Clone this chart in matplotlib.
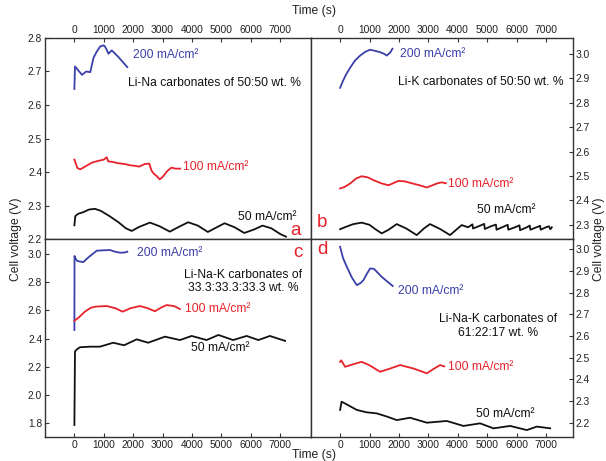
import matplotlib
matplotlib.use("Agg")
import matplotlib.pyplot as plt
import numpy as np

plt.rcParams['font.family'] = ['Liberation Sans', 'DejaVu Sans']

# ---------------- data ----------------
time_ticks = [0, 1000, 2000, 3000, 4000, 5000, 6000, 7000]

# panel a: Li-Na 50:50
a200_t = [0, 20, 135, 260, 400, 540, 650, 765, 880, 1000, 1050, 1100, 1160, 1270, 1400, 1500, 1650, 1800]
a200_v = [2.648, 2.715, 2.703, 2.690, 2.700, 2.698, 2.741, 2.760, 2.775, 2.778, 2.773, 2.765, 2.753, 2.763, 2.752, 2.743, 2.728, 2.713]
a100_t = [0, 100, 200, 400, 600, 800, 1000, 1100, 1150, 1300, 1500, 1700, 1900, 2100, 2200, 2400, 2550, 2620, 2700, 2800, 2900, 3000, 3150, 3300, 3450, 3600]
a100_v = [2.437, 2.412, 2.408, 2.418, 2.428, 2.433, 2.437, 2.444, 2.432, 2.430, 2.426, 2.424, 2.420, 2.418, 2.416, 2.424, 2.425, 2.405, 2.395, 2.388, 2.378, 2.385, 2.402, 2.413, 2.410, 2.410]
a50_t = [0, 30, 120, 300, 500, 700, 900, 1200, 1500, 1750, 1950, 2200, 2570, 2900, 3245, 3550, 3870, 4200, 4540, 4800, 5110, 5450, 5780, 6100, 6400, 6700, 7000, 7200]
a50_v = [2.241, 2.268, 2.275, 2.280, 2.288, 2.290, 2.284, 2.268, 2.250, 2.232, 2.224, 2.236, 2.249, 2.238, 2.222, 2.236, 2.250, 2.240, 2.221, 2.233, 2.247, 2.235, 2.218, 2.228, 2.240, 2.232, 2.215, 2.207]

# panel b: Li-K 50:50
b200_t = [0, 100, 200, 340, 500, 680, 850, 1020, 1200, 1360, 1500, 1585, 1700, 1780]
b200_v = [2.861, 2.890, 2.915, 2.943, 2.972, 2.993, 3.008, 3.017, 3.012, 3.007, 3.000, 2.993, 3.005, 3.021]
b100_t = [0, 150, 350, 550, 735, 950, 1133, 1400, 1642, 1800, 1982, 2200, 2380, 2700, 2945, 3100, 3285, 3450, 3600]
b100_v = [2.449, 2.455, 2.470, 2.490, 2.499, 2.494, 2.483, 2.470, 2.462, 2.470, 2.480, 2.478, 2.472, 2.462, 2.453, 2.460, 2.469, 2.474, 2.470]
b50_t = [0, 200, 450, 735, 1000, 1200, 1415, 1650, 1925, 2250, 2605, 2850, 3058, 3400, 3738, 3950, 4135, 4350, 4500, 4520,
         4750, 4900, 4920, 5150, 5300, 5320, 5550, 5700, 5720, 5950, 6100, 6120, 6350, 6450, 6470, 6700, 6800, 6820, 7000, 7100,
         7150, 7200]
b50_v = [2.282, 2.292, 2.303, 2.309, 2.300, 2.282, 2.265, 2.280, 2.303, 2.285, 2.258, 2.285, 2.303, 2.283, 2.258, 2.280, 2.299, 2.290, 2.302, 2.285,
         2.296, 2.304, 2.283, 2.295, 2.301, 2.280, 2.292, 2.300, 2.280, 2.290, 2.298, 2.278, 2.290, 2.297, 2.280, 2.291, 2.296, 2.280, 2.290, 2.294,
         2.282, 2.290]

# panel c: Li-Na-K 33.3:33.3:33.3
c200_t = [0, 5, 15, 100, 300, 500, 760, 1000, 1210, 1400, 1550, 1700, 1800]
c200_v = [2.461, 2.986, 2.975, 2.950, 2.942, 2.980, 3.023, 3.026, 3.028, 3.015, 3.009, 3.010, 3.016]
c100_t = [0, 150, 350, 550, 720, 1100, 1400, 1640, 1900, 2230, 2500, 2740, 2950, 3140, 3400, 3590]
c100_v = [2.527, 2.550, 2.590, 2.618, 2.627, 2.631, 2.615, 2.591, 2.615, 2.631, 2.615, 2.594, 2.620, 2.638, 2.630, 2.610]
c50_t = [0, 20, 60, 190, 530, 870, 1320, 1690, 2120, 2510, 3080, 3590, 3990, 4500, 4900, 5400, 5860, 6260, 6650, 7170]
c50_v = [1.788, 2.308, 2.320, 2.339, 2.343, 2.343, 2.371, 2.353, 2.395, 2.371, 2.414, 2.390, 2.419, 2.390, 2.426, 2.390, 2.419, 2.390, 2.419, 2.384]

# panel d: Li-Na-K 61:22:17
d200_t = [0, 100, 227, 400, 567, 700, 794, 900, 1020, 1150, 1247, 1400, 1600, 1790]
d200_v = [3.012, 2.960, 2.920, 2.870, 2.835, 2.845, 2.858, 2.885, 2.912, 2.910, 2.897, 2.875, 2.852, 2.831]
d100_t = [0, 40, 170, 450, 737, 1000, 1360, 1700, 2040, 2500, 2948, 3200, 3400, 3540]
d100_v = [2.481, 2.488, 2.458, 2.470, 2.481, 2.465, 2.435, 2.450, 2.466, 2.450, 2.428, 2.450, 2.466, 2.460]
d50_t = [0, 50, 150, 567, 900, 1247, 1600, 1927, 2380, 2948, 3628, 4195, 4760, 5215, 5782, 6350, 6690, 7143]
d50_v = [2.259, 2.297, 2.290, 2.259, 2.248, 2.243, 2.228, 2.212, 2.223, 2.200, 2.208, 2.185, 2.197, 2.174, 2.185, 2.166, 2.182, 2.174]

# ---------------- style ----------------
BLUE = '#3b40a8'
RED = '#e8222b'
BLACK = '#111111'
AXC = '#333333'
LW = 1.3
FS = 8.7
TFS = 7.4

fig = plt.figure(figsize=(6.06, 4.61), dpi=100)
L, M, R = 45/606, 311/606, 573/606
T, H, B = 1-38/461, 1-239/461, 1-437/461
ax_a = fig.add_axes([L, H, M-L, T-H])
ax_b = fig.add_axes([M, H, R-M, T-H])
ax_c = fig.add_axes([L, B, M-L, H-B])
ax_d = fig.add_axes([M, B, R-M, H-B])

def style(ax, yside, xside, yticks):
    for s in ax.spines.values():
        s.set_color(AXC)
        s.set_linewidth(1.0)
    ax.set_xticks(time_ticks)
    ax.set_yticks(yticks)
    ax.set_yticklabels([f"{v:.1f}" for v in yticks])
    ax.tick_params(axis='both', direction='in', length=3, width=0.8, colors=AXC,
                   labelsize=TFS, labelcolor='#222222', pad=2)
    ax.tick_params(axis='x', top=(xside == 'top'), bottom=(xside == 'bottom'),
                   labeltop=(xside == 'top'), labelbottom=(xside == 'bottom'))
    ax.tick_params(axis='y', left=(yside == 'left'), right=(yside == 'right'),
                   labelleft=(yside == 'left'), labelright=(yside == 'right'))

for ax, t, v, c in [(ax_a, a200_t, a200_v, BLUE), (ax_a, a100_t, a100_v, RED), (ax_a, a50_t, a50_v, BLACK),
                    (ax_b, b200_t, b200_v, BLUE), (ax_b, b100_t, b100_v, RED), (ax_b, b50_t, b50_v, BLACK),
                    (ax_c, c200_t, c200_v, BLUE), (ax_c, c100_t, c100_v, RED), (ax_c, c50_t, c50_v, BLACK),
                    (ax_d, d200_t, d200_v, BLUE), (ax_d, d100_t, d100_v, RED), (ax_d, d50_t, d50_v, BLACK)]:
    ax.plot(t, v, color=c, lw=LW)

ax_a.set_xlim(-1000, 8050); ax_a.set_ylim(2.2, 2.8)
ax_b.set_xlim(-990, 7920); ax_b.set_ylim(2.242, 3.065)
ax_c.set_xlim(-1000, 8050); ax_c.set_ylim(1.703, 3.106)
ax_d.set_xlim(-990, 7920); ax_d.set_ylim(2.134, 3.048)

style(ax_a, 'left', 'top', np.round(np.arange(2.2, 2.81, 0.1), 1))
style(ax_b, 'right', 'top', np.round(np.arange(2.3, 3.01, 0.1), 1))
style(ax_c, 'left', 'bottom', np.round(np.arange(1.8, 3.01, 0.2), 1))
style(ax_d, 'right', 'bottom', np.round(np.arange(2.2, 3.01, 0.1), 1))

unit = 'mA/cm\u00b2'
# panel a
ax_a.text(2000, 2.748, '200 ' + unit, color=BLUE, fontsize=FS, va='center')
ax_a.text(1813, 2.667, 'Li-Na carbonates of 50:50 wt. %', color=BLACK, fontsize=FS, va='center')
ax_a.text(3695, 2.414, '100 ' + unit, color=RED, fontsize=FS, va='center')
ax_a.text(5577, 2.266, '50 ' + unit, color=BLACK, fontsize=FS, va='center')
ax_a.text(7700, 2.226, 'a', color=RED, fontsize=13.5, va='center', ha='right')
# panel b
ax_b.text(2040, 3.0, '200 ' + unit, color=BLUE, fontsize=FS, va='center')
ax_b.text(1985, 2.884, 'Li-K carbonates of 50:50 wt. %', color=BLACK, fontsize=FS, va='center')
ax_b.text(3685, 2.469, '100 ' + unit, color=RED, fontsize=FS, va='center')
ax_b.text(4650, 2.36, '50 ' + unit, color=BLACK, fontsize=FS, va='center')
ax_b.text(-780, 2.31, 'b', color=RED, fontsize=13.5, va='center')
# panel c
ax_c.text(2120, 3.009, '200 ' + unit, color=BLUE, fontsize=FS, va='center')
ax_c.text(5737, 2.803, 'Li-Na-K carbonates of\n33.3:33.3:33.3 wt. %', color=BLACK, fontsize=FS,
          va='center', ha='center', linespacing=1.15)
ax_c.text(3763, 2.61, '100 ' + unit, color=RED, fontsize=FS, va='center')
ax_c.text(3957, 2.332, '50 ' + unit, color=BLACK, fontsize=FS, va='center')
ax_c.text(7750, 3.012, 'c', color=RED, fontsize=13.5, va='center', ha='right')
# panel d
ax_d.text(1983, 2.809, '200 ' + unit, color=BLUE, fontsize=FS, va='center')
ax_d.text(5357, 2.647, 'Li-Na-K carbonates of\n61:22:17 wt. %', color=BLACK, fontsize=FS,
          va='center', ha='center', linespacing=1.15)
ax_d.text(3684, 2.458, '100 ' + unit, color=RED, fontsize=FS, va='center')
ax_d.text(4626, 2.24, '50 ' + unit, color=BLACK, fontsize=FS, va='center')
ax_d.text(-780, 3.0, 'd', color=RED, fontsize=13.5, va='center')

# axis titles
fig.text(314/606, 1-11/461, 'Time (s)', fontsize=FS, ha='center', va='center', color='#222222')
fig.text(314/606, 1-455/461, 'Time (s)', fontsize=FS, ha='center', va='center', color='#222222')
fig.text(16/606, 1-239/461, 'Cell voltage (V)', fontsize=FS, rotation=90, ha='center', va='center', color='#222222')
fig.text(599/606, 1-239/461, 'Cell voltage (V)', fontsize=FS, rotation=90, ha='center', va='center', color='#222222')

fig.savefig('out.png', dpi=100)
